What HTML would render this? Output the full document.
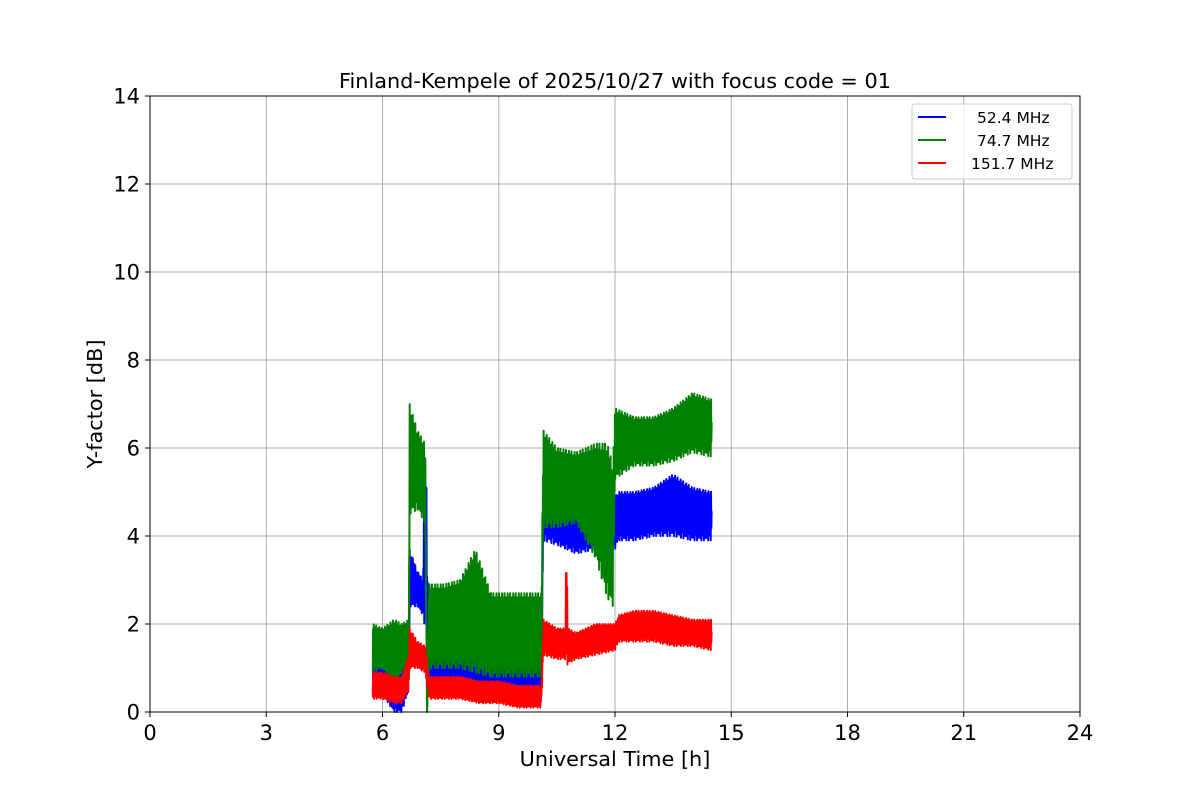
<!DOCTYPE html>
<html><head><meta charset="utf-8"><style>
body{margin:0;background:#fff;}
svg{display:block;font-family:"DejaVu Sans","Liberation Sans",sans-serif;}
</style></head><body>
<svg id="chart" width="1200" height="800">
<g id="grid"></g>
<g id="series"></g>
<rect x="150" y="96" width="930" height="616" fill="none" stroke="#000" stroke-width="1"/>
<g id="ticks"></g>
<text x="615" y="88" text-anchor="middle" font-size="20.8">Finland-Kempele of 2025/10/27 with focus code = 01</text>
<text x="615" y="766" text-anchor="middle" font-size="20.8">Universal Time [h]</text>
<text x="102" y="404" text-anchor="middle" font-size="20.8" transform="rotate(-90 102 404)">Y-factor [dB]</text>
<g>
<rect x="912" y="104" width="160" height="75" rx="3" fill="#fff" fill-opacity="0.8" stroke="#ccc"/>
<line x1="918" y1="117" x2="946" y2="117" stroke="#0000ff" stroke-width="2"/>
<text x="977" y="123" font-size="15.5">52.4 MHz</text>
<line x1="918" y1="140" x2="946" y2="140" stroke="#008000" stroke-width="2"/>
<text x="977" y="146" font-size="15.5">74.7 MHz</text>
<line x1="918" y1="163" x2="946" y2="163" stroke="#ff0000" stroke-width="2"/>
<text x="971" y="169" font-size="15.5">151.7 MHz</text>
</g>
</svg>
<script>
const xTicks=[0,3,6,9,12,15,18,21,24];
const yTicks=[0,2,4,6,8,10,12,14];
const blueT=[5.75,6.0,6.3,6.5,6.68,6.7,6.9,7.05,7.08,7.12,7.2,7.6,8.0,8.5,9.0,9.5,10.1,10.15,10.5,11.0,11.5,12.0,12.1,12.5,13.0,13.5,14.0,14.5];
const blueLo=[0.4,0.4,0.0,0.0,0.5,2.4,2.4,2.2,2.0,2.0,0.5,0.5,0.4,0.3,0.4,0.3,0.3,3.9,3.8,3.6,3.7,3.7,3.9,3.9,4.0,4.0,3.9,3.9];
const blueHi=[1.1,1.0,0.9,1.0,1.2,3.7,3.2,3.0,5.9,5.9,1.3,1.2,1.3,1.2,1.1,1.0,1.0,5.7,5.0,4.8,4.8,4.9,5.0,5.0,5.1,5.4,5.1,5.0];
const greenT=[5.75,6.0,6.3,6.5,6.68,6.7,6.9,7.1,7.15,7.2,7.6,8.0,8.4,8.8,9.2,9.6,10.1,10.15,10.5,11.0,11.5,11.8,11.95,12.0,12.5,13.0,13.5,14.0,14.5];
const greenLo=[0.9,1.0,0.6,0.9,1.0,4.5,4.6,4.3,0.0,1.0,1.0,1.0,0.9,0.8,0.8,0.8,0.8,4.2,4.2,4.3,3.5,2.6,2.4,5.3,5.6,5.6,5.7,5.9,5.8];
const greenHi=[2.0,1.9,2.1,2.0,2.1,7.0,6.4,6.1,0.0,2.9,2.9,3.0,3.7,2.7,2.7,2.7,2.7,6.4,6.0,5.9,6.1,6.1,5.6,6.9,6.7,6.7,6.9,7.25,7.1];
const redT=[5.75,6.0,6.3,6.5,6.68,6.7,6.9,7.1,7.2,7.6,8.0,8.5,9.0,9.5,10.1,10.15,10.5,10.72,10.75,10.78,11.0,11.5,12.0,12.1,12.5,13.0,13.5,14.0,14.5];
const redLo=[0.3,0.3,0.2,0.2,0.5,1.0,1.0,0.9,0.3,0.3,0.3,0.2,0.2,0.1,0.1,1.3,1.2,1.2,1.0,1.1,1.2,1.3,1.4,1.6,1.6,1.6,1.5,1.5,1.4];
const redHi=[0.9,0.9,0.8,0.8,1.3,1.9,1.6,1.5,0.8,0.8,0.8,0.7,0.7,0.6,0.6,2.1,1.9,1.9,4.6,1.9,1.8,2.0,2.0,2.2,2.3,2.3,2.2,2.1,2.1];

const NS='http://www.w3.org/2000/svg';
const X0=150,X1=1080,Y0=712,Y1=96;
const xs=v=>X0+(v/24)*(X1-X0);
const ys=v=>Y0-(v/14)*(Y0-Y1);
const grid=document.getElementById('grid'),ticks=document.getElementById('ticks');
function mk(tag,attrs,parent){const e=document.createElementNS(NS,tag);for(const k in attrs)e.setAttribute(k,attrs[k]);parent.appendChild(e);return e;}
xTicks.forEach(v=>{
  const g=mk('line',{x1:xs(v),x2:xs(v),y1:Y1,y2:Y0,stroke:'#b0b0b0','stroke-width':1},grid);
  
  
  const t=mk('line',{x1:xs(v),x2:xs(v),y1:Y0,y2:Y0+5,stroke:'#000'},ticks);
  
  
  const l=mk('text',{x:xs(v),y:Y0+28,'text-anchor':'middle','font-size':21},ticks);
  l.textContent=v;
  
  
});
yTicks.forEach(v=>{
  const g=mk('line',{x1:X0,x2:X1,y1:ys(v),y2:ys(v),stroke:'#b0b0b0','stroke-width':1},grid);
  
  
  const t=mk('line',{x1:X0-5,x2:X0,y1:ys(v),y2:ys(v),stroke:'#000'},ticks);
  
  
  const l=mk('text',{x:X0-10,y:ys(v)+7.5,'text-anchor':'end','font-size':21},ticks);
  l.textContent=v;
  
  
});
const cycA=[0.05,0.2,0.0,0.35,0.1,0.15,0.0,0.25,0.45,0.05,0.3];
const cycB=[0.1,0.0,0.3,0.05,0.2,0.0,0.4,0.15,0.05];
function interp(T,A,t){for(let i=0;i<T.length-1;i++){if(t>=T[i]&&t<=T[i+1]){const f=(t-T[i])/(T[i+1]-T[i]||1);return A[i]+(A[i+1]-A[i])*f;}}return A[A.length-1];}
function draw(T,LO,HI,color,name){
  let d='';const dt=0.008;let k=0;
  for(let t=T[0];t<=T[T.length-1]+1e-9;t+=dt,k++){
    const lo=interp(T,LO,t),hi=interp(T,HI,t),r=hi-lo;
    const v=(k%2===0)?lo+r*cycA[(k>>1)%11]:hi-r*cycB[(k>>1)%9];
    d+=(k?'L':'M')+xs(t).toFixed(2)+' '+ys(v).toFixed(2);
  }
  const p=mk('path',{d:d,fill:'none',stroke:color,'stroke-width':2,'stroke-linejoin':'round'},document.getElementById('series'));
  
  
}
draw(blueT,blueLo,blueHi,'#0000ff','series-52-4-mhz');
draw(greenT,greenLo,greenHi,'#008000','series-74-7-mhz');
draw(redT,redLo,redHi,'#ff0000','series-151-7-mhz');
</script>
</body></html>
